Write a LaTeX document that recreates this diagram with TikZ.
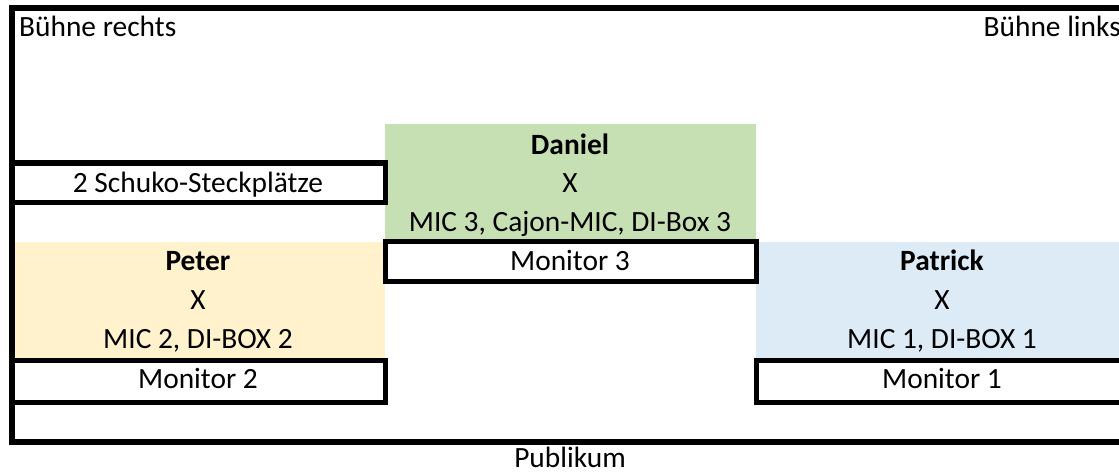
\documentclass[tikz,border=0pt]{standalone}
\usepackage{fontspec}
\setmainfont{Carlito}
\definecolor{dangreen}{RGB}{198,224,180}
\definecolor{petorange}{RGB}{255,242,204}
\definecolor{patblue}{RGB}{221,235,247}
\tikzset{
  frameline/.style={line width=5.5pt, line cap=rect},
  boxline/.style={line width=5pt},
  lbl/.style={inner sep=0pt, anchor=base, font=\fontsize{29.4}{34}\selectfont},
  blbl/.style={lbl, font=\fontsize{29.4}{34}\selectfont\bfseries},
}
\begin{document}
\begin{tikzpicture}[x=1pt,y=-1pt]
\useasboundingbox (0,0) rectangle (1119,476);
\clip (0,0) rectangle (1119,476);
% fills
\fill[dangreen] (385,124) rectangle (756,241.5);
\fill[petorange] (12,241.5) rectangle (385,360);
\fill[patblue] (756,241.5) rectangle (1135,360);
% boxes
\draw[boxline] (12,163) rectangle (385,202);
\draw[boxline] (385,241.5) rectangle (756,281);
\draw[boxline] (12,360.5) rectangle (385.5,402);
\draw[boxline] (756,360.5) rectangle (1140,402);
% frame
\draw[frameline] (1140,8) -- (12,8) -- (12,442) -- (1140,442);
% texts
\node[lbl, anchor=base west] (br) at (19,37) {Bühne rechts};
\node[lbl, anchor=base east] (bl) at (1121,37) {Bühne links};
\node[lbl] (schuko) at (198,193) {2 Schuko-Steckplätze};
\node[blbl] (daniel) at (570,154) {Daniel};
\node[lbl] (dx) at (570,193) {X};
\node[lbl] (dmic) at (570,231) {MIC 3, Cajon-MIC, DI-Box 3};
\node[lbl] (mon3) at (570,270) {Monitor 3};
\node[blbl] (peter) at (198,270) {Peter};
\node[lbl] (px) at (198,309) {X};
\node[lbl] (pmic) at (198,348) {MIC 2, DI-BOX 2};
\node[lbl] (mon2) at (198,388) {Monitor 2};
\node[blbl] (patrick) at (942,270) {Patrick};
\node[lbl] (patx) at (942,309) {X};
\node[lbl] (patmic) at (942,348) {MIC 1, DI-BOX 1};
\node[lbl] (mon1) at (942,388) {Monitor 1};
\node[lbl] (pub) at (570,467) {Publikum};
\end{tikzpicture}
\end{document}
